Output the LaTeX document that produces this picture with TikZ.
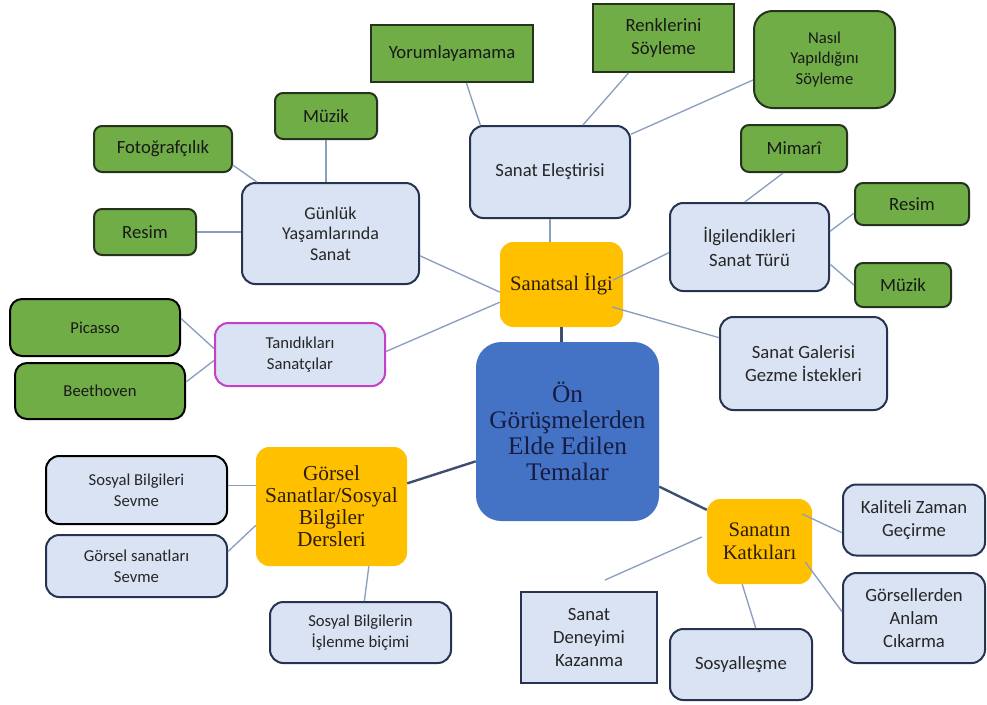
\documentclass[tikz,border=0pt]{standalone}
\usepackage{fontspec}
\setmainfont{Carlito}
\newfontfamily\temafont{Liberation Serif}
\definecolor{leafgreen}{RGB}{112,173,71}
\definecolor{leafline}{RGB}{36,50,30}
\definecolor{codefill}{RGB}{218,227,243}
\definecolor{codeline}{RGB}{38,52,82}
\definecolor{themegold}{RGB}{255,192,0}
\definecolor{themeblue}{RGB}{68,114,196}
\definecolor{themetext}{RGB}{22,28,66}
\definecolor{subtext}{RGB}{45,28,8}
\definecolor{linkgray}{RGB}{138,158,190}
\definecolor{linkdark}{RGB}{62,78,112}
\definecolor{artistline}{RGB}{196,64,200}

\begin{document}
\begin{tikzpicture}[x=0.75pt,y=-0.75pt,
  dims/.style 2 args={minimum width=#1*0.75pt,minimum height=#2*0.75pt},
  smalltext/.style={font=\fontsize{12.5}{15.5}\selectfont},
  leaf/.style={draw=leafline,fill=leafgreen,line width=1.5pt,rounded corners=6pt,
    inner sep=2pt,align=center,text=black!90,font=\fontsize{14}{17.5}\selectfont},
  leafsq/.style={leaf,sharp corners},
  code/.style={draw=codeline,fill=codefill,line width=1.5pt,rounded corners=10pt,
    inner sep=2pt,align=center,text=black!85,font=\fontsize{14}{17.5}\selectfont},
  sub/.style={fill=themegold,rounded corners=10pt,inner sep=2pt,align=center,
    text=subtext,font=\temafont\fontsize{16}{16.5}\selectfont},
  theme/.style={fill=themeblue,rounded corners=19pt,align=center,text=themetext,
    font=\temafont\fontsize{19}{19.5}\selectfont},
  link/.style={draw=linkgray,line width=1pt},
  mainlink/.style={draw=linkdark,line width=1.8pt}]
\path[use as bounding box,fill=white] (0,0) rectangle (987,704);

% themes
\node[theme,dims={183}{179}] (tema) at (567.5,431.5) {Ön\\Görüşmelerden\\Elde Edilen\\Temalar};
\node[sub,dims={123}{85},font=\temafont\fontsize{15.5}{16.5}\selectfont] (ilgi) at (561.5,284.5) {Sanatsal İlgi};
\node[sub,dims={151}{119}] (gorsel) at (331.5,506.5) {Görsel\\Sanatlar/Sosyal\\Bilgiler\\Dersleri};
\node[sub,dims={105}{85},font=\temafont\fontsize{15.5}{17}\selectfont] (katki) at (759.5,541.5) {Sanatın\\Katkıları};

% codes
\node[code,dims={177}{101},font=\fontsize{13.5}{15.5}\selectfont] (gunluk) at (330.5,233.5) {Günlük\\Yaşamlarında\\Sanat};
\node[code,dims={160}{92}] (elestiri) at (550,172) {Sanat Eleştirisi};
\node[code,dims={159}{88}] (ilgilen) at (749.5,247) {İlgilendikleri\\Sanat Türü};
\node[code,dims={167}{93}] (galeri) at (803.5,363.5) {Sanat Galerisi\\Gezme İstekleri};
\node[code,smalltext,dims={170}{63},draw=artistline] (tanidik) at (300,354.5) {Tanıdıkları\\Sanatçılar};
\node[code,smalltext,dims={181}{68},draw=black] (sevme1) at (136.5,490) {Sosyal Bilgileri\\Sevme};
\node[code,smalltext,dims={181}{62}] (sevme2) at (136.5,566) {Görsel sanatları\\Sevme};
\node[code,smalltext,dims={181}{61}] (islenme) at (360.5,632.5) {Sosyal Bilgilerin\\İşlenme biçimi};
\node[code,dims={142}{71}] (kalite) at (914,520) {Kaliteli Zaman\\Geçirme};
\node[code,dims={142}{90}] (anlam) at (914,618) {Görsellerden\\Anlam\\Cıkarma};
\node[code,dims={142}{71}] (sosyal) at (741,664.5) {Sosyalleşme};
\node[code,dims={136}{91},sharp corners] (deneyim) at (589,637.5) {Sanat\\Deneyimi\\Kazanma};

% leaves
\node[leafsq,dims={162}{57}] (yorum) at (452,53.5) {Yorumlayamama};
\node[leafsq,dims={141}{68}] (renk) at (663.5,38) {Renklerini\\Söyleme};
\node[leaf,smalltext,dims={141}{97},rounded corners=14pt] (nasil) at (824.5,59.5) {Nasıl\\Yapıldığını\\Söyleme};
\node[leaf,dims={102}{46}] (muzikA) at (326,116) {Müzik};
\node[leaf,dims={138}{46}] (fotog) at (163,149) {Fotoğrafçılık};
\node[leaf,dims={102}{46}] (resimA) at (145,232) {Resim};
\node[leaf,dims={106}{47}] (mimari) at (794,148.5) {Mimarî};
\node[leaf,dims={114}{42}] (resimB) at (912,204) {Resim};
\node[leaf,dims={96}{44}] (muzikB) at (903,285) {Müzik};
\node[leaf,smalltext,dims={170}{57},draw=black,rounded corners=9pt] (picasso) at (95,327.5) {Picasso};
\node[leaf,smalltext,dims={170}{56},draw=black,rounded corners=9pt] (beet) at (100,391) {Beethoven};

% connectors
\draw[mainlink] (ilgi.south) -- (ilgi.south |- tema.north);
\draw[mainlink] (tema.-162) -- (gorsel.17);
\draw[mainlink] (tema.-31) -- (katki.149);

\draw[link] (yorum.-64) -- (elestiri.146);
\draw[link] (renk.-135) -- (elestiri.55);
\draw[link] (nasil.-164) -- (elestiri.25);
\draw[link] (elestiri.south) -- (elestiri.south |- ilgi.north);
\draw[link] (muzikA.south) -- (muzikA.south |- gunluk.north);
\draw[link] (fotog.-13) -- (gunluk.145);
\draw[link] (resimA.east) -- (resimA.east -| gunluk.west);
\draw[link] (gunluk.-14) -- (ilgi.-173);
\draw[link] (tanidik.2) -- (ilgi.-164);
\draw[link] (ilgilen.-176) -- ([shift={(-10,-4.5)}]ilgi.east);
\draw[link] ([shift={(-11,22.5)}]ilgi.east) -- (galeri.163);
\draw[link] (mimari.-114) -- (ilgilen.96);
\draw[link] (ilgilen.11) -- (resimB.-171);
\draw[link] (ilgilen.-12) -- (muzikB.west);
\draw[link] (picasso.6) -- (tanidik.176);
\draw[link] (beet.6) -- (tanidik.-176);
\draw[link] (sevme1.3) -- (sevme1.3 -| gorsel.west);
\draw[link] (sevme2.9) -- (gorsel.-166);
\draw[link] (gorsel.-58) -- (islenme.83);
\draw[link] ([shift={(-10,-27.5)}]katki.east) -- (kalite.-170);
\draw[link] ([shift={(-7,20.5)}]katki.east) -- (anlam.175);
\draw[link] (katki.-112) -- (sosyal.68);
\coordinate (kfree) at ([shift={(-5,-4.5)}]katki.west);
\coordinate (dfree) at ([shift={(16,-11)}]deneyim.north);
\draw[link] (kfree) -- (dfree);
\end{tikzpicture}
\end{document}
